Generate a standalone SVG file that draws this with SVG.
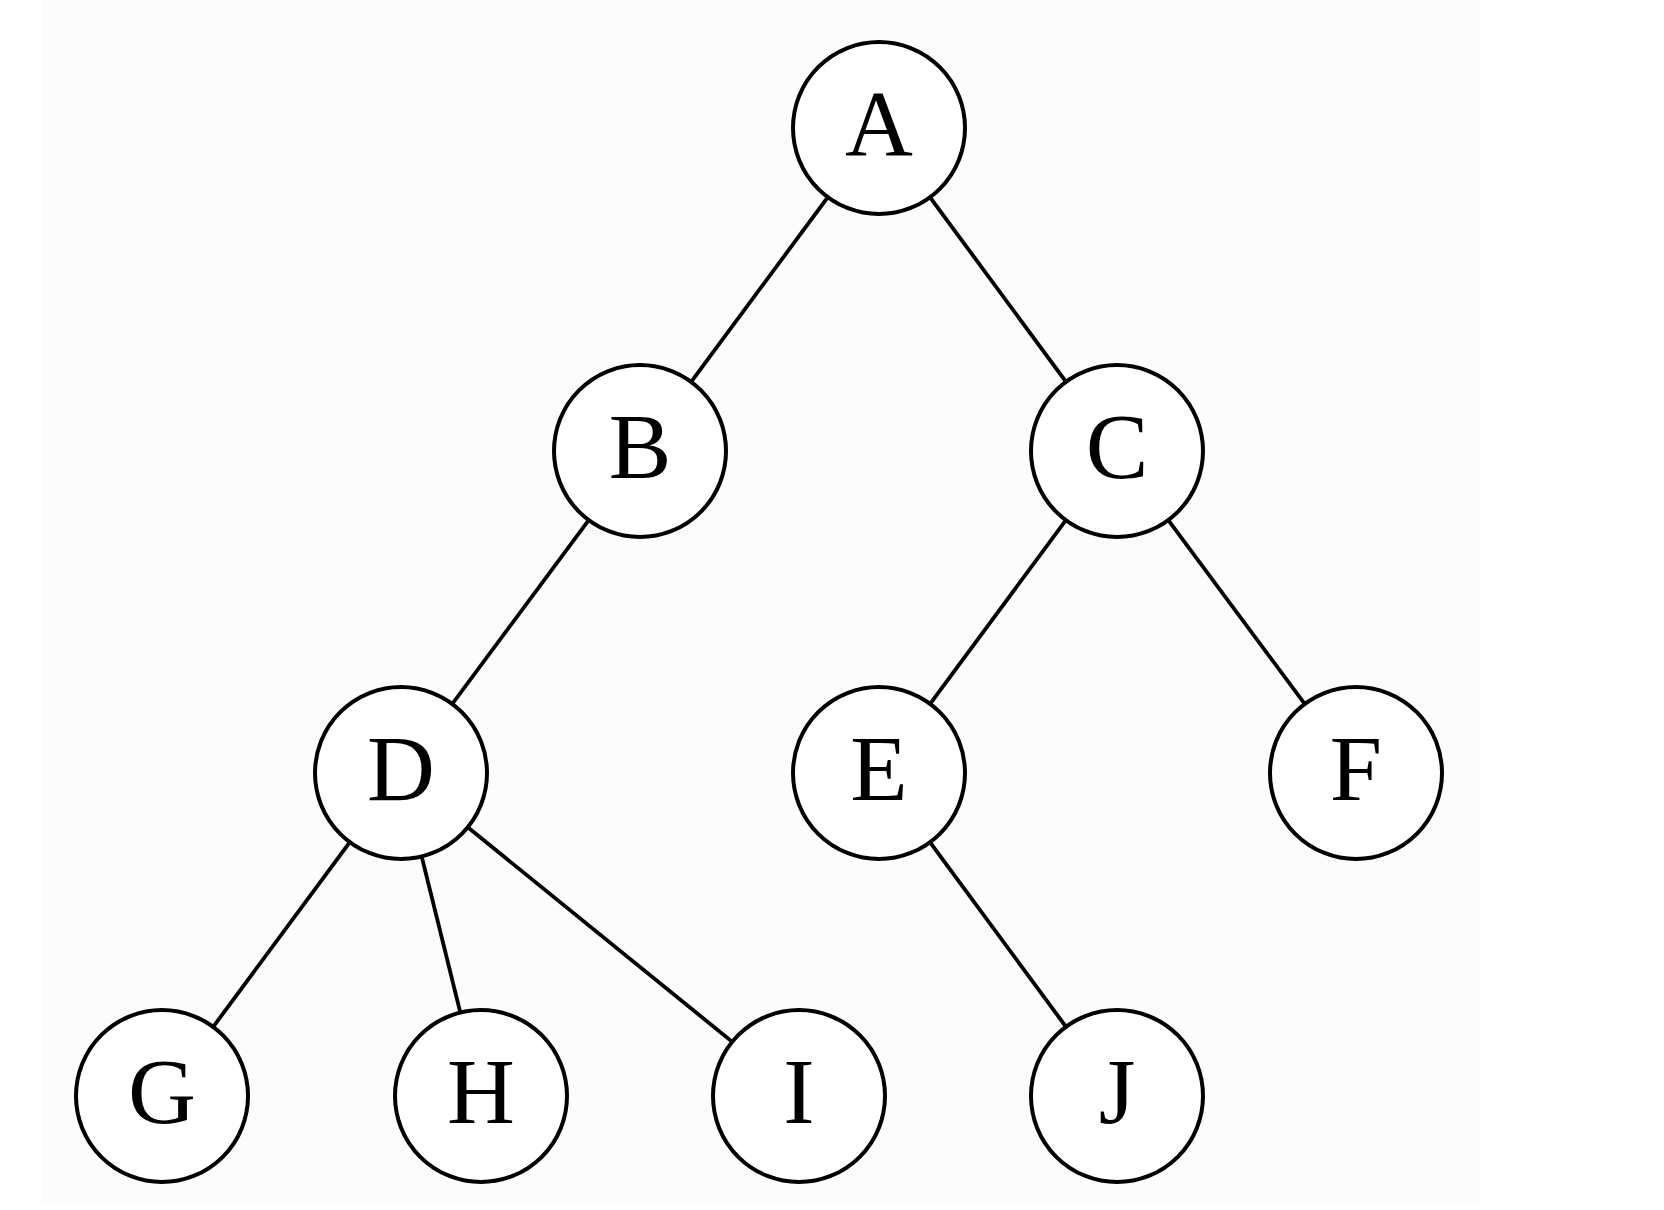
<svg xmlns="http://www.w3.org/2000/svg" width="1664" height="1210" viewBox="0 0 1664 1210">
<style>
.node circle{fill:#ffffff;stroke:#000000;stroke-width:4}
.node text{font-family:"Liberation Serif","Times New Roman",serif;font-size:94px;fill:#000000;text-anchor:middle}
#edges line{stroke:#000000;stroke-width:3.8}
</style>
<rect x="0" y="0" width="1664" height="1210" fill="#ffffff"/>
<rect x="42" y="0" width="1438" height="1205" fill="#fcfcfc"/>
<g id="edges">
<line x1="879" y1="128" x2="640" y2="451"/>
<line x1="879" y1="128" x2="1117" y2="451"/>
<line x1="640" y1="451" x2="401" y2="773"/>
<line x1="1117" y1="451" x2="879" y2="773"/>
<line x1="1117" y1="451" x2="1356" y2="773"/>
<line x1="401" y1="773" x2="162" y2="1096"/>
<line x1="401" y1="773" x2="481" y2="1096"/>
<line x1="401" y1="773" x2="799" y2="1096"/>
<line x1="879" y1="773" x2="1117" y2="1096"/>
</g>
<g id="node-A" class="node"><circle cx="879" cy="128" r="86"/><text x="879" y="155">A</text></g>
<g id="node-B" class="node"><circle cx="640" cy="451" r="86"/><text x="640" y="478">B</text></g>
<g id="node-C" class="node"><circle cx="1117" cy="451" r="86"/><text x="1117" y="478">C</text></g>
<g id="node-D" class="node"><circle cx="401" cy="773" r="86"/><text x="401" y="800">D</text></g>
<g id="node-E" class="node"><circle cx="879" cy="773" r="86"/><text x="879" y="800">E</text></g>
<g id="node-F" class="node"><circle cx="1356" cy="773" r="86"/><text x="1356" y="800">F</text></g>
<g id="node-G" class="node"><circle cx="162" cy="1096" r="86"/><text x="162" y="1123">G</text></g>
<g id="node-H" class="node"><circle cx="481" cy="1096" r="86"/><text x="481" y="1123">H</text></g>
<g id="node-I" class="node"><circle cx="799" cy="1096" r="86"/><text x="799" y="1123">I</text></g>
<g id="node-J" class="node"><circle cx="1117" cy="1096" r="86"/><text x="1117" y="1123">J</text></g>
</svg>
